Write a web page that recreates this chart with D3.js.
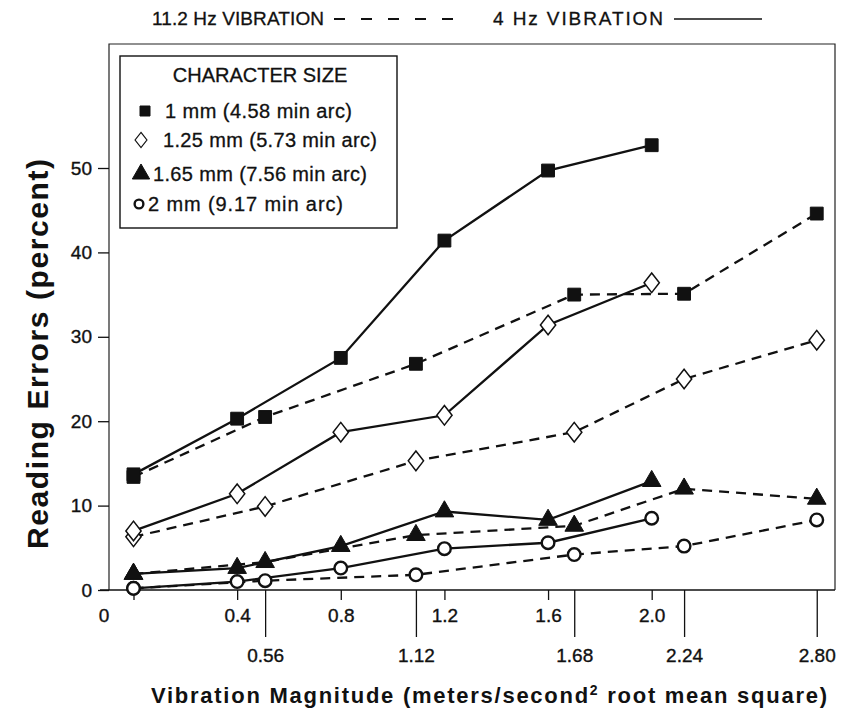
<!DOCTYPE html>
<html>
<head>
<meta charset="utf-8">
<script src="https://cdn.jsdelivr.net/npm/d3@7"></script>
<style>
  body { margin: 0; background: #fff; }
  svg { font-family: "Liberation Sans", Arial, Helvetica, sans-serif; }
</style>
</head>
<body>
<div id="chart"></div>
<script>
// x values (m/s^2 rms) for the two vibration frequencies
const hz4X = [0, 0.4, 0.8, 1.2, 1.6, 2.0];
const hz11X = [0, 0.56, 1.12, 1.68, 2.24, 2.80];
// where each 11.2 Hz magnitude sits on the 4 Hz scale
const equivalent4Hz = [0, 0.508, 1.09, 1.701, 2.125, 2.637];

const topTicks = [0, 0.4, 0.8, 1.2, 1.6, 2.0];
const lowTicks = [0.56, 1.12, 1.68, 2.24, 2.80];
const yTicks = [0, 10, 20, 30, 40, 50];

// reading errors (percent) per character size
const sizes = ["1 mm (4.58 min arc)", "1.25 mm (5.73 min arc)", "1.65 mm (7.56 min arc)", "2 mm (9.17 min arc)"];
const err4Hz = [
  [13.7, 20.3, 27.5, 41.4, 49.7, 52.7],
  [7.0, 11.4, 18.7, 20.7, 31.4, 36.4],
  [1.9, 2.6, 5.2, 9.3, 8.3, 12.9],
  [0.2, 1.0, 2.6, 4.9, 5.6, 8.5]
];
const err11Hz = [
  [13.4, 20.5, 26.8, 35.0, 35.1, 44.6],
  [6.3, 9.9, 15.3, 18.7, 25.0, 29.6],
  [1.9, 3.3, 6.5, 7.6, 12.0, 10.8],
  [0.2, 1.1, 1.8, 4.2, 5.2, 8.3]
];

const width = 842, height = 720;
const plotLeft = 109, plotRight = 835, plotTop = 44;

const svg = d3.select("#chart").append("svg")
  .attr("width", width)
  .attr("height", height);
svg.append("rect").attr("width", width).attr("height", height).attr("fill", "#fff");

const x = d3.scaleLinear().domain([0, 2.0]).range([133.5, 651.7]);
const xb = d3.scaleLinear().domain(hz11X).range(equivalent4Hz.map(d => x(d)));
const y = d3.scaleLinear().domain([0, 50]).range([590, 168]);

// diamond taller than wide
const tallDiamond = {
  draw(ctx, size) {
    const h = Math.sqrt(size) * 0.62, w = h * 0.78;
    ctx.moveTo(0, -h); ctx.lineTo(w, 0); ctx.lineTo(0, h); ctx.lineTo(-w, 0); ctx.closePath();
  }
};
const markers = [
  { type: d3.symbolSquare, size: 165, fill: "#111", stroke: "#111", sw: 1 },
  { type: tallDiamond, size: 250, fill: "#fff", stroke: "#111", sw: 1.5 },
  { type: d3.symbolTriangle, size: 150, fill: "#111", stroke: "#111", sw: 1 },
  { type: d3.symbolCircle, size: 125, fill: "#fff", stroke: "#111", sw: 2.4 }
];

// frame
svg.append("path")
  .attr("d", `M${plotLeft},${y(0)}V${plotTop}H${plotRight}V${y(0)}`)
  .attr("fill", "none").attr("stroke", "#222").attr("stroke-width", 1.2);
svg.append("line")
  .attr("x1", 100).attr("x2", plotRight).attr("y1", y(0)).attr("y2", y(0))
  .attr("stroke", "#111").attr("stroke-width", 1.6);

// y axis
const yAxis = svg.append("g")
  .attr("transform", `translate(${plotLeft},0)`)
  .call(d3.axisLeft(y).tickValues(yTicks).tickSize(11).tickPadding(6));
yAxis.select(".domain").remove();

// upper x axis (4 Hz)
const xTop = svg.append("g")
  .attr("transform", `translate(0,${y(0)})`)
  .call(d3.axisBottom(x).tickValues(topTicks).tickSize(10).tickPadding(9)
    .tickFormat(d => d === 0 ? "0" : d3.format(".1f")(d)));
xTop.select(".domain").remove();
xTop.selectAll(".tick").filter(d => d === 0).select("text").attr("dx", -30);

// lower x axis (11.2 Hz)
const xLow = svg.append("g")
  .attr("transform", `translate(0,${y(0)})`)
  .call(d3.axisBottom(xb).tickValues(lowTicks).tickSize(47).tickPadding(12)
    .tickFormat(d3.format(".2f")));
xLow.select(".domain").remove();

svg.selectAll(".tick line").attr("stroke", "#111").attr("stroke-width", 1.3);
svg.selectAll(".tick text").attr("font-size", 19).attr("fill", "#111")
  .attr("stroke", "#111").attr("stroke-width", 0.35)
  .attr("font-family", "Liberation Sans, Arial, sans-serif");

// lines
const line4 = d3.line().x((d, i) => x(hz4X[i])).y(d => y(d));
const line11 = d3.line().x((d, i) => xb(hz11X[i])).y(d => y(d));

svg.append("g").selectAll("path.dashed")
  .data(err11Hz).enter().append("path")
  .attr("class", "dashed")
  .attr("d", line11)
  .attr("fill", "none").attr("stroke", "#111").attr("stroke-width", 2.3)
  .attr("stroke-dasharray", "10,7");

svg.append("g").selectAll("path.solid")
  .data(err4Hz).enter().append("path")
  .attr("class", "solid")
  .attr("d", line4)
  .attr("fill", "none").attr("stroke", "#111").attr("stroke-width", 2.3);

// markers
function drawMarkers(series, xs, scale) {
  series.forEach((vals, s) => {
    const m = markers[s];
    svg.append("g").selectAll("path")
      .data(vals).enter().append("path")
      .attr("d", d3.symbol().type(m.type).size(m.size))
      .attr("transform", (d, i) => `translate(${scale(xs[i])},${y(d)})`)
      .attr("fill", m.fill).attr("stroke", m.stroke).attr("stroke-width", m.sw);
  });
}
drawMarkers(err11Hz, hz11X, xb);
drawMarkers(err4Hz, hz4X, x);

// character size legend
const lg = svg.append("g").attr("fill", "#111").attr("font-size", 20);
lg.append("rect").attr("x", 120).attr("y", 56).attr("width", 277).attr("height", 172)
  .attr("fill", "#fff").attr("stroke", "#111").attr("stroke-width", 1.4);
lg.append("text").attr("x", 260).attr("y", 82).attr("text-anchor", "middle")
  .attr("stroke", "#111").attr("stroke-width", 0.3)
  .text("CHARACTER SIZE");

const legendRows = [
  { my: 111, mx: 145, tx: 165, tl: 187, size: 100 },
  { my: 140, mx: 141, tx: 163, tl: 214, size: 150 },
  { my: 174, mx: 141, tx: 153, tl: 214, size: 130 },
  { my: 204, mx: 139, tx: 148, tl: 195, size: 60 }
];
legendRows.forEach((r, i) => {
  const m = markers[i];
  lg.append("path")
    .attr("d", d3.symbol().type(m.type).size(r.size))
    .attr("transform", `translate(${r.mx},${r.my})`)
    .attr("fill", m.fill).attr("stroke", m.stroke).attr("stroke-width", i === 1 ? 1.2 : m.sw);
  lg.append("text").attr("x", r.tx).attr("y", r.my + 7)
    .attr("stroke", "#111").attr("stroke-width", 0.3)
    .attr("textLength", r.tl).attr("lengthAdjust", "spacing")
    .text(sizes[i]);
});

// frequency legend at top
const freqLegend = svg.append("g").attr("fill", "#111").attr("font-size", 19)
  .attr("stroke-width", 0.3);
freqLegend.append("text").attr("x", 152).attr("y", 25).attr("stroke", "#111")
  .attr("textLength", 172).attr("lengthAdjust", "spacing")
  .text("11.2 Hz VIBRATION");
freqLegend.append("line").attr("x1", 334).attr("x2", 456).attr("y1", 19).attr("y2", 19)
  .attr("stroke", "#111").attr("stroke-width", 2).attr("stroke-dasharray", "11,16");
freqLegend.append("text").attr("x", 493).attr("y", 25).attr("stroke", "#111")
  .attr("textLength", 170).attr("lengthAdjust", "spacing")
  .text("4 Hz VIBRATION");
freqLegend.append("line").attr("x1", 674).attr("x2", 762).attr("y1", 19).attr("y2", 19)
  .attr("stroke", "#111").attr("stroke-width", 1.6);

// axis titles
svg.append("text")
  .attr("transform", "translate(48,354) rotate(-90)")
  .attr("text-anchor", "middle").attr("font-weight", "bold").attr("font-size", 30)
  .attr("fill", "#111").attr("textLength", 390).attr("lengthAdjust", "spacing")
  .text("Reading Errors (percent)");

const xt = svg.append("text")
  .attr("x", 489).attr("y", 703).attr("text-anchor", "middle")
  .attr("font-weight", "bold").attr("font-size", 22).attr("fill", "#111")
  .attr("textLength", 676).attr("lengthAdjust", "spacing");
xt.append("tspan").text("Vibration Magnitude (meters/second");
xt.append("tspan").attr("font-size", 14).attr("dy", -8).text("2");
xt.append("tspan").attr("dy", 8).text(" root mean square)");
</script>
</body>
</html>
